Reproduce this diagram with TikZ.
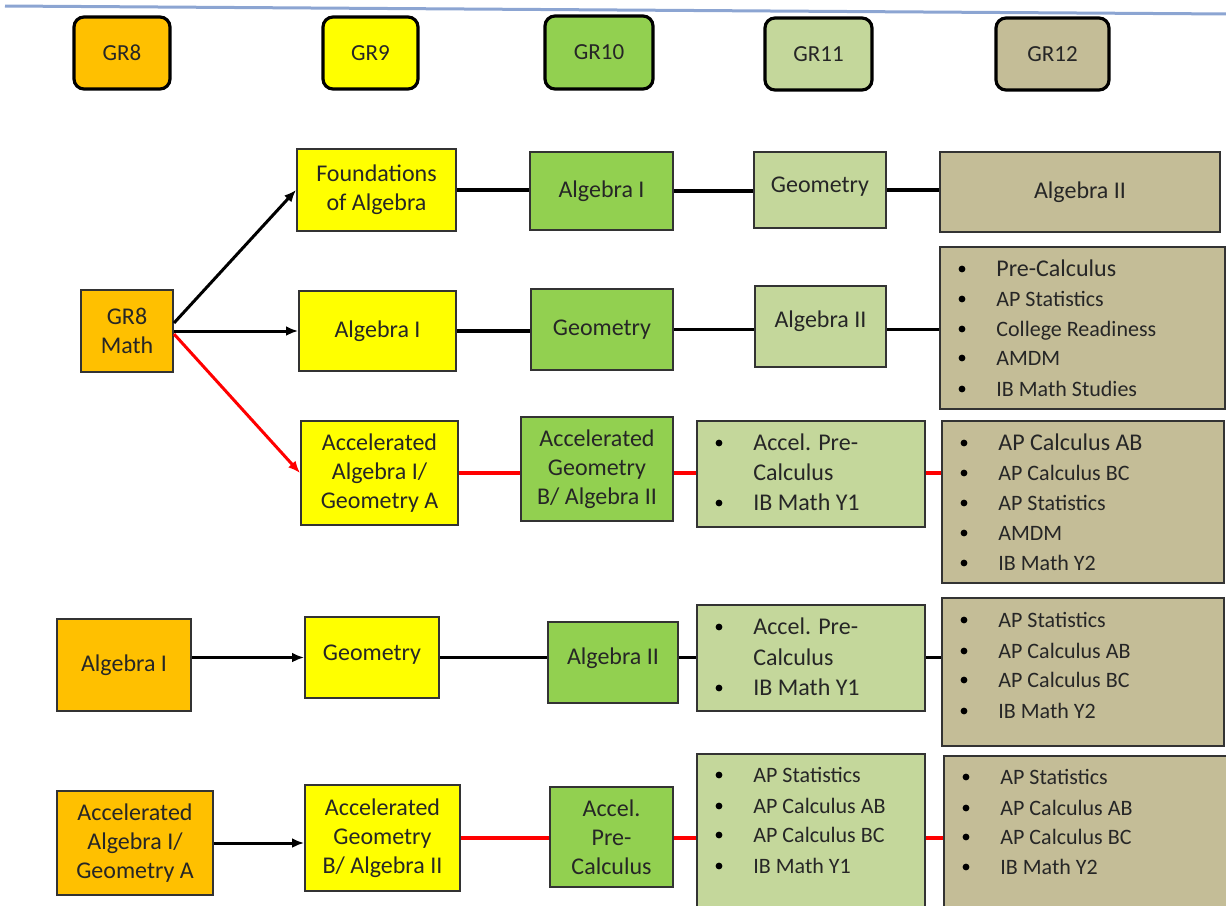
\documentclass[tikz,border=0pt]{standalone}
\usepackage{fontspec}
\setmainfont{Carlito}
\usetikzlibrary{arrows.meta}
\definecolor{cO}{HTML}{FFC000}
\definecolor{cY}{HTML}{FFFF00}
\definecolor{cG}{HTML}{92D050}
\definecolor{cL}{HTML}{C4D79B}
\definecolor{cT}{HTML}{C4BD97}
\definecolor{topline}{RGB}{140,165,210}
\newcommand{\myfL}{\fontsize{12}{14}\selectfont}
\newcommand{\myfS}{\fontsize{11}{13}\selectfont}
\newcommand{\uplift}[2]{\raisebox{#1}[\height][\depth]{#2}}
% #1 name, #2 box left x, #3 bullet y, #4 font, #5 text
\newcommand{\bitem}[5]{%
  \fill[black] (#2+22,#3) circle[radius=1.7pt];
  \node[anchor=base west, inner sep=0, font=#4, text=black!85] (#1) at (#2+56,#3+7) {#5};}
\begin{document}
\begin{tikzpicture}[x=0.5pt,y=-0.5pt,
  hdr/.style={draw=black, line width=1.6pt, rounded corners=5pt, inner sep=0,
    text=black!85, font=\fontsize{11.5}{13}\selectfont},
  bx/.style={draw=black!80, line width=1pt, inner sep=0, align=center,
    text=black!85, font=\fontsize{12}{14.5}\selectfont},
  conn/.style={line width=1.7pt, black},
  redconn/.style={line width=1.7pt, red},
  arr/.style={line width=1.5pt, -{Latex[length=6pt,width=5pt]}},
]
\useasboundingbox (0,0) rectangle (1226,905);
\clip (0,0) rectangle (1226,905);

% top line
\coordinate (tl1) at (5,6);
\coordinate (tl2) at (1230,14);
\draw[topline, line width=1.5pt] (tl1) -- (tl2);

% headers
\node[hdr, fill=cO, minimum width=48pt, minimum height=36pt] (h8) at (122,53) {GR8};
\node[hdr, fill=cY, minimum width=47.5pt, minimum height=36pt] (h9) at (370.5,53) {GR9};
\node[hdr, fill=cG, minimum width=54pt, minimum height=36.5pt] (h10) at (599,52.5) {GR10};
\node[hdr, fill=cL, minimum width=53.5pt, minimum height=36pt] (h11) at (818.5,54) {GR11};
\node[hdr, fill=cT, minimum width=56.5pt, minimum height=36pt] (h12) at (1052.5,54) {GR12};

% row 1
\node[bx, fill=cO, minimum width=46pt, minimum height=41pt] (math8) at (127,331) {GR8\\Math};
\node[bx, fill=cY, minimum width=79.5pt, minimum height=41pt] (foa9) at (376.5,190) {Foundations\\of Algebra};
\node[bx, fill=cG, minimum width=71.5pt, minimum height=39pt] (alg10a) at (601.5,191) {Algebra I};
\node[bx, fill=cL, minimum width=66pt, minimum height=38pt] (geo11a) at (820,190) {\uplift{1.5pt}{Geometry}};
\node[bx, fill=cT, minimum width=140pt, minimum height=40pt] (alg12a) at (1080,192) {Algebra II};

% row 2
\node[bx, fill=cY, minimum width=78.5pt, minimum height=40pt] (alg9b) at (377.5,331) {Algebra I};
\node[bx, fill=cG, minimum width=71pt, minimum height=40.5pt] (geo10b) at (602,329.5) {Geometry};
\node[bx, fill=cL, minimum width=65.5pt, minimum height=40.5pt] (alg11b) at (820.5,326.5) {\uplift{2.5pt}{Algebra II}};
\node[bx, fill=cT, minimum width=142.5pt, minimum height=81pt] (list12b) at (1082.5,328) {};

% row 3
\node[bx, fill=cY, minimum width=78.5pt, minimum height=52pt] (acc9c) at (379.5,473) {Accelerated\\Algebra I/\\Geometry A};
\node[bx, fill=cG, minimum width=76pt, minimum height=52pt] (accgeo10c) at (597,469) {Accelerated\\Geometry\\B/ Algebra II};
\node[bx, fill=cL, minimum width=114pt, minimum height=53pt] (list11c) at (811,474) {};
\node[bx, fill=cT, minimum width=141pt, minimum height=81pt] (list12c) at (1083,502) {};

% row 4
\node[bx, fill=cO, minimum width=67pt, minimum height=46pt] (alg8d) at (124,665) {Algebra I};
\node[bx, fill=cY, minimum width=67pt, minimum height=40.5pt] (geo9d) at (372,657.5) {\uplift{1.5pt}{Geometry}};
\node[bx, fill=cG, minimum width=65pt, minimum height=40.5pt] (alg10d) at (613,662.5) {\uplift{2pt}{Algebra II}};
\node[bx, fill=cL, minimum width=114pt, minimum height=53pt] (list11d) at (811,658) {};
\node[bx, fill=cT, minimum width=141pt, minimum height=74pt] (list12d) at (1083,672) {};

% row 5
\node[bx, fill=cO, minimum width=78pt, minimum height=52pt] (acc8e) at (135,843) {Accelerated\\Algebra I/\\Geometry A};
\node[bx, fill=cY, minimum width=77.5pt, minimum height=53pt] (accgeo9e) at (382.5,838) {Accelerated\\Geometry\\B/ Algebra II};
\node[bx, fill=cG, minimum width=61.5pt, minimum height=50pt] (pre10e) at (611.5,837) {Accel.\\Pre-\\Calculus};
\node[bx, fill=cL, minimum width=114pt, minimum height=79pt] (list11e) at (811,833) {};
\node[bx, fill=cT, minimum width=144pt, minimum height=78pt] (list12e) at (1088,834) {};

% list items
\bitem{b2a}{940}{269}{\myfL}{Pre-Calculus}
\bitem{b2b}{940}{299}{\myfS}{AP Statistics}
\bitem{b2c}{940}{329}{\myfS}{College Readiness}
\bitem{b2d}{940}{358}{\myfS}{AMDM}
\bitem{b2e}{940}{389}{\myfS}{IB Math Studies}

\bitem{c1a}{697}{443}{\myfL}{Accel. Pre-}
\node[anchor=base west, inner sep=0, font=\myfL, text=black!85] (c1b) at (753,480) {Calculus};
\bitem{c1c}{697}{503}{\myfL}{IB Math Y1}

\bitem{c2a}{942}{443}{\myfL}{AP Calculus AB}
\bitem{c2b}{942}{473}{\myfS}{AP Calculus BC}
\bitem{c2c}{942}{503}{\myfS}{AP Statistics}
\bitem{c2d}{942}{533}{\myfS}{AMDM}
\bitem{c2e}{942}{563}{\myfS}{IB Math Y2}

\bitem{d1a}{697}{627}{\myfL}{Accel. Pre-}
\node[anchor=base west, inner sep=0, font=\myfL, text=black!85] (d1b) at (753,665) {Calculus};
\bitem{d1c}{697}{688}{\myfL}{IB Math Y1}

\bitem{d2a}{942}{620}{\myfS}{AP Statistics}
\bitem{d2b}{942}{651}{\myfS}{AP Calculus AB}
\bitem{d2c}{942}{680}{\myfS}{AP Calculus BC}
\bitem{d2d}{942}{711}{\myfS}{IB Math Y2}

\bitem{e1a}{697}{775}{\myfS}{AP Statistics}
\bitem{e1b}{697}{806}{\myfS}{AP Calculus AB}
\bitem{e1c}{697}{835}{\myfS}{AP Calculus BC}
\bitem{e1d}{697}{866}{\myfS}{IB Math Y1}

\bitem{e2a}{944}{777}{\myfS}{AP Statistics}
\bitem{e2b}{944}{808}{\myfS}{AP Calculus AB}
\bitem{e2c}{944}{837}{\myfS}{AP Calculus BC}
\bitem{e2d}{944}{867}{\myfS}{IB Math Y2}

% connectors
\draw[arr] ([yshift=4pt]math8.east) -- (foa9.west);
\draw[arr] (math8.east) -- (math8.east -| alg9b.west);
\draw[arr, red] ([yshift=-1.5pt]math8.east) -- (acc9c.west);

\draw[conn] (foa9.east) -- (foa9.east -| alg10a.west);
\draw[conn] (alg10a.east) -- (alg10a.east -| geo11a.west);
\draw[conn] (geo11a.east) -- (geo11a.east -| alg12a.west);

\draw[conn] (alg9b.east) -- (alg9b.east -| geo10b.west);
\draw[conn] (geo10b.east) -- (geo10b.east -| alg11b.west);
\draw[conn] (geo10b.east -| alg11b.east) -- (geo10b.east -| list12b.west);

\draw[redconn] (acc9c.east) -- (acc9c.east -| accgeo10c.west);
\draw[redconn] (acc9c.east -| accgeo10c.east) -- (acc9c.east -| list11c.west);
\draw[redconn] (acc9c.east -| list11c.east) -- (acc9c.east -| list12c.west);

\draw[arr] (alg8d.east |- geo9d.west) -- (geo9d.west);
\draw[conn] (geo9d.east) -- (geo9d.east -| alg10d.west);
\draw[conn] (geo9d.east -| alg10d.east) -- (geo9d.east -| list11d.west);
\draw[conn] (geo9d.east -| list11d.east) -- (geo9d.east -| list12d.west);

\draw[arr] (acc8e.east) -- (acc8e.east -| accgeo9e.west);
\draw[redconn] (accgeo9e.east) -- (accgeo9e.east -| pre10e.west);
\draw[redconn] (accgeo9e.east -| pre10e.east) -- (accgeo9e.east -| list11e.west);
\draw[redconn] (accgeo9e.east -| list11e.east) -- (accgeo9e.east -| list12e.west);
\end{tikzpicture}
\end{document}
